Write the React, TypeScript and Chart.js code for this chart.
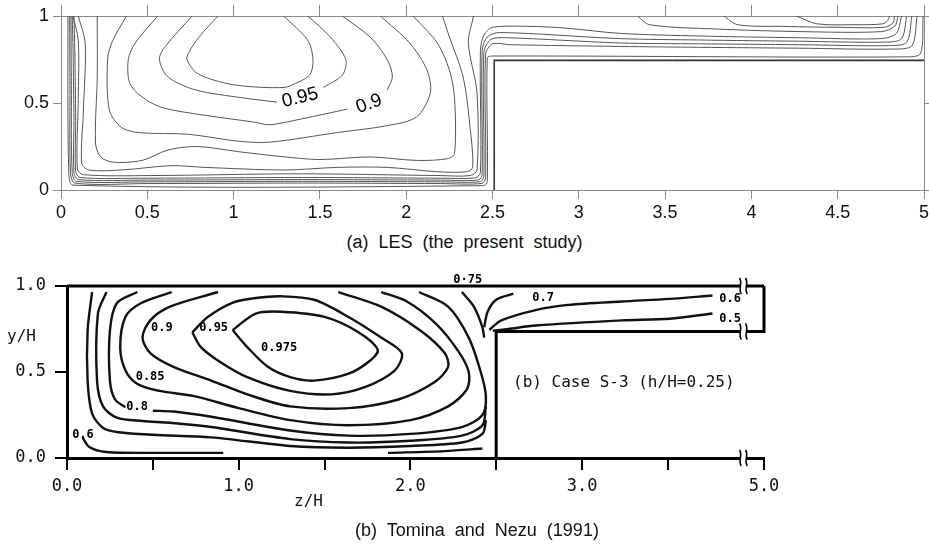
import { useEffect, useRef } from "react";
import { Chart, registerables } from "chart.js";
Chart.register(...registerables);

type Pt = [number, number] | null;

// ================= (a) LES panel data (z/H, y/H) =================
const lesStepZ = 2.51;
const lesStepTop = 0.745;
const lesStepOutline: Pt[] = [[lesStepZ, 0], [lesStepZ, lesStepTop], [5, lesStepTop]];

const lesC1: Pt[] = [[0.91, 1.0], [0.8, 0.88], [0.74, 0.79], [0.73, 0.75], [0.79, 0.67], [0.97, 0.61], [1.16, 0.59], [1.3, 0.59], [1.33, 0.6], [1.44, 0.66], [1.46, 0.75], [1.43, 0.86], [1.29, 1.0]];
const lesC095: Pt[] = [[0.76, 1.0], [0.6, 0.82], [0.57, 0.75], [0.62, 0.65], [0.78, 0.575], [1.05, 0.53], [1.25, 0.505], null, [1.52, 0.59], [1.63, 0.66], [1.65, 0.75], [1.56, 0.88], [1.43, 1.0]];
const lesC090: Pt[] = [[0.56, 1.0], [0.43, 0.845], [0.39, 0.75], [0.4, 0.61], [0.49, 0.52], [0.6, 0.47], [0.83, 0.43], [1.12, 0.39], [1.21, 0.375], [1.4, 0.41], [1.66, 0.465], null, [1.89, 0.575], [1.92, 0.65], [1.89, 0.75], [1.79, 0.88], [1.63, 1.0]];
const lesC085: Pt[] = [[0.38, 1.0], [0.3, 0.86], [0.27, 0.75], [0.28, 0.46], [0.35, 0.36], [0.45, 0.33], [0.74, 0.32], [1.03, 0.28], [1.21, 0.275], [1.6, 0.33], [1.89, 0.37], [2.06, 0.42], [2.14, 0.56], [2.12, 0.69], [2.02, 0.845], [1.85, 1.0]];
const lesC080: Pt[] = [[0.21, 1.0], [0.21, 0.65], [0.2, 0.27], [0.23, 0.19], [0.3, 0.16], [0.47, 0.17], [0.62, 0.23], [0.79, 0.25], [1.03, 0.22], [1.3, 0.19], [1.5, 0.175], [1.79, 0.19], [2.06, 0.17], [2.24, 0.18], [2.28, 0.21], [2.28, 0.53], [2.25, 0.69], [2.18, 0.845], [2.04, 1.0]];
const lesC075: Pt[] = [[0.1, 1.0], [0.14, 0.845], [0.13, 0.46], [0.12, 0.155], [0.16, 0.115], [0.35, 0.115], [0.64, 0.14], [0.83, 0.13], [1.3, 0.115], [1.6, 0.13], [1.89, 0.13], [2.18, 0.105], [2.35, 0.105], [2.385, 0.13], [2.37, 0.36], [2.33, 0.65], [2.25, 0.88], [2.21, 1.0]];
const lesC070: Pt[] = [[0.07, 1.0], [0.1, 0.86], [0.1, 0.52], [0.095, 0.12], [0.13, 0.088], [0.52, 0.083], [1.38, 0.093], [2.2, 0.083], [2.37, 0.083], [2.41, 0.115], [2.41, 0.56], [2.36, 0.845], [2.39, 1.0]];
const lesW1: Pt[] = [[0.075, 1.0], [0.08, 0.8], [0.085, 0.4], [0.085, 0.11], [0.11, 0.072], [0.5, 0.068], [1.4, 0.072], [2.2, 0.068], [2.4, 0.07], [2.43, 0.1], [2.43, 0.8], [2.45, 0.89], [2.5, 0.935], [2.73, 0.94], [2.93, 0.93], [3.24, 0.9], [3.7, 0.885], [4.28, 0.875], [4.75, 0.87], [4.84, 0.9], [4.87, 1.0]];
const lesW2: Pt[] = [[0.065, 1.0], [0.07, 0.8], [0.075, 0.4], [0.075, 0.1], [0.1, 0.06], [0.5, 0.057], [1.4, 0.06], [2.2, 0.057], [2.42, 0.058], [2.44, 0.09], [2.44, 0.8], [2.47, 0.88], [2.54, 0.905], [3.24, 0.87], [3.7, 0.862], [4.28, 0.855], [4.78, 0.85], [4.87, 0.87], [4.9, 1.0]];
const lesW3: Pt[] = [[0.058, 1.0], [0.06, 0.6], [0.065, 0.1], [0.09, 0.05], [0.5, 0.047], [1.4, 0.05], [2.2, 0.047], [2.43, 0.048], [2.45, 0.08], [2.45, 0.79], [2.49, 0.865], [2.58, 0.875], [3.24, 0.845], [3.7, 0.84], [4.28, 0.835], [4.8, 0.83], [4.9, 0.85], [4.93, 1.0]];
const lesW4: Pt[] = [[0.05, 1.0], [0.052, 0.6], [0.055, 0.1], [0.08, 0.04], [0.5, 0.037], [1.4, 0.04], [2.2, 0.037], [2.44, 0.038], [2.46, 0.07], [2.46, 0.78], [2.5, 0.84], [2.6, 0.835], [3.24, 0.825], [3.7, 0.82], [4.28, 0.815], [4.82, 0.81], [4.93, 0.83], [4.96, 1.0]];
const lesW5: Pt[] = [[0.04, 1.0], [0.045, 0.1], [0.07, 0.028], [2.45, 0.025], [2.47, 0.05], [2.47, 0.76], [2.5, 0.77], [4.9, 0.765], [4.98, 0.785], [4.995, 1.0]];
const lesT1: Pt[] = [[3.34, 1.0], [3.41, 0.95], [3.8, 0.925], [4.3, 0.91], [4.75, 0.91], [4.83, 0.94], [4.85, 1.0]];
const lesT2: Pt[] = [[3.84, 1.0], [3.92, 0.95], [4.2, 0.94], [4.5, 0.935], [4.77, 0.935], [4.82, 0.96], [4.83, 1.0]];
const lesT3: Pt[] = [[4.26, 1.0], [4.38, 0.955], [4.6, 0.95], [4.76, 0.955], [4.79, 0.975], [4.8, 1.0]];

const lesContours: Pt[][] = [lesC1, lesC095, lesC090, lesC085, lesC080, lesC075, lesC070, lesW1, lesW2, lesW3, lesW4, lesW5, lesT1, lesT2, lesT3];
const lesLabelText = ["0.95", "0.9"];
const lesLabelZ = [1.385, 1.785];
const lesLabelY = [0.53, 0.495];
const lesLabelRot = [-14, -20];

// ================= (b) Tominaga & Nezu panel data =================
const expXMax = 4.06;
const expStepZ = 2.5;
const expStepTop = 0.735;
const expBreakZ = 3.94;
const expXTickValues = [0, 0.5, 1, 1.5, 2, 2.5, 3, 3.5, 4.06];
const expXTickLabels = ["0.0", "", "1.0", "", "2.0", "", "3.0", "", "5.0"];
const expTopLine: Pt[] = [[0, 1], [expXMax, 1]];
const expStepOutline: Pt[] = [[expStepZ, 0], [expStepZ, expStepTop], [expXMax, expStepTop], [expXMax, 1]];

const expC0975: Pt[] = [[0.965, 0.744], [1.05, 0.645], [1.17, 0.53], [1.3, 0.47], [1.44, 0.45], [1.64, 0.49], [1.77, 0.57], [1.81, 0.63], [1.7, 0.73], [1.5, 0.82], [1.25, 0.85], [1.1, 0.84], [0.965, 0.744]];
const expC095: Pt[] = [[0.73, 0.73], [0.82, 0.82], [0.97, 0.905], [1.1, 0.93], [1.25, 0.94], [1.44, 0.92], [1.64, 0.82], [1.83, 0.7], [1.95, 0.61], [1.91, 0.51], [1.73, 0.41], [1.54, 0.37], [1.3, 0.39], [1.05, 0.47], [0.89, 0.56], [0.78, 0.645], [0.73, 0.73]];
const expC090: Pt[] = [[0.88, 0.965], [0.6, 0.88], [0.485, 0.8], [0.44, 0.7], [0.485, 0.61], [0.62, 0.53], [0.84, 0.45], [1.05, 0.37], [1.3, 0.3], [1.64, 0.29], [1.93, 0.34], [2.14, 0.44], [2.22, 0.53], [2.2, 0.61], [2.06, 0.74], [1.83, 0.88], [1.58, 0.965]];
const expC085: Pt[] = [[0.61, 0.965], [0.43, 0.9], [0.34, 0.82], [0.31, 0.645], [0.34, 0.51], [0.41, 0.43], [0.54, 0.39], [0.74, 0.36], [1.0, 0.29], [1.3, 0.22], [1.64, 0.19], [2.0, 0.22], [2.22, 0.3], [2.33, 0.4], [2.34, 0.5], [2.28, 0.62], [2.15, 0.78], [1.98, 0.91], [1.83, 0.965]];
const expC080: Pt[] = [[0.41, 0.965], [0.29, 0.9], [0.25, 0.74], [0.25, 0.45], [0.28, 0.34], [0.34, 0.295], null, [0.5, 0.275], [0.62, 0.27], [0.84, 0.24], [1.3, 0.16], [1.64, 0.13], [2.0, 0.14], [2.3, 0.18], [2.42, 0.25], [2.44, 0.36], [2.41, 0.5], [2.34, 0.7], [2.22, 0.88], [2.05, 0.965]];
const expC075: Pt[] = [[0.23, 0.965], [0.18, 0.84], [0.175, 0.45], [0.21, 0.3], [0.29, 0.235], [0.44, 0.215], [0.6, 0.205], [0.84, 0.18], [1.3, 0.11], [1.64, 0.09], [2.0, 0.1], [2.3, 0.13], [2.42, 0.19], [2.44, 0.3]];
const expC070: Pt[] = [[0.146, 0.965], [0.12, 0.74], [0.12, 0.45], [0.146, 0.26], [0.21, 0.175], [0.3, 0.15], [0.5, 0.135], [0.84, 0.12], [1.3, 0.07], [1.64, 0.06], [2.0, 0.07], [2.3, 0.09], [2.42, 0.14], [2.44, 0.22]];
const expC060: Pt[] = [[0.09, 0.12], [0.13, 0.064], [0.23, 0.035], [0.54, 0.03], [0.91, 0.03]];
const expC060b: Pt[] = [[1.87, 0.03], [2.2, 0.04], [2.42, 0.055]];
const expC075top: Pt[] = [[2.3, 0.965], [2.37, 0.88], [2.42, 0.76], [2.43, 0.7]];
const expFp07: Pt[] = [[2.43, 0.76], [2.45, 0.85], [2.5, 0.92], [2.6, 0.955]];
const expFp06: Pt[] = [[2.46, 0.745], [2.53, 0.8], [2.73, 0.86], [2.92, 0.89], [3.23, 0.91], [3.51, 0.925], [3.76, 0.945]];
const expFp05: Pt[] = [[2.48, 0.74], [2.57, 0.75], [2.73, 0.77], [3.23, 0.8], [3.51, 0.81], [3.76, 0.84]];

const expContours: Pt[][] = [expC0975, expC095, expC090, expC085, expC080, expC075, expC070, expC060, expC060b, expC075top, expFp07, expFp06, expFp05];
const expLabelText = ["0.975", "0.95", "0.9", "0.85", "0.8", "0.6", "0·75", "0.7", "0.6", "0.5"];
const expLabelZ = [1.13, 0.77, 0.49, 0.4, 0.345, 0.03, 2.25, 2.71, 3.8, 3.8];
const expLabelY = [0.64, 0.755, 0.755, 0.47, 0.3, 0.135, 1.035, 0.93, 0.925, 0.81];

// ================= helpers =================
function toXY(a: Pt[]) {
  let lx = 0;
  return a.map((p) => {
    if (p) {
      lx = p[0];
      return { x: p[0], y: p[1] };
    }
    return { x: lx, y: null as any };
  });
}

function lineDs(a: Pt[], color: string, width: number, tension: number, clip: any) {
  return {
    data: toXY(a),
    showLine: true,
    borderColor: color,
    borderWidth: width,
    pointRadius: 0,
    pointHoverRadius: 0,
    tension,
    fill: false,
    spanGaps: false,
    clip,
  };
}

function labelPlugin(id: string, texts: string[], zs: number[], ys: number[], rots: number[] | null, font: string, align: CanvasTextAlign) {
  return {
    id,
    afterDatasetsDraw(chart: any) {
      const { ctx, scales } = chart;
      ctx.save();
      ctx.font = font;
      ctx.fillStyle = "#000";
      ctx.textBaseline = "middle";
      ctx.textAlign = align;
      texts.forEach((t, i) => {
        ctx.save();
        ctx.translate(scales.x.getPixelForValue(zs[i]), scales.y.getPixelForValue(ys[i]));
        if (rots) ctx.rotate((rots[i] * Math.PI) / 180);
        ctx.fillText(t, 0, 0);
        ctx.restore();
      });
      ctx.restore();
    },
  };
}

const breakPlugin = {
  id: "breaks",
  afterDraw(chart: any) {
    const { ctx, scales } = chart;
    const px = scales.x.getPixelForValue(expBreakZ);
    [1.0, expStepTop, 0].forEach((v) => {
      const py = scales.y.getPixelForValue(v);
      ctx.save();
      ctx.fillStyle = "#fff";
      ctx.fillRect(px - 3, py - 3, 6, 6);
      ctx.strokeStyle = "#000";
      ctx.lineWidth = 1.6;
      [-3, 3].forEach((off) => {
        ctx.beginPath();
        ctx.moveTo(px + off - 1, py - 8);
        ctx.bezierCurveTo(px + off + 3, py - 3, px + off - 3, py + 3, px + off + 1, py + 8);
        ctx.stroke();
      });
      ctx.restore();
    });
  },
};

const sans = "'Liberation Sans', Arial, sans-serif";
const mono = "'DejaVu Sans Mono', 'Liberation Mono', monospace";
const axisGray = "#8a8a8a";
const plainNum = (v: any) => String(Math.round(Number(v) * 100) / 100);

export default function App() {
  const topRef = useRef<HTMLCanvasElement | null>(null);
  const botRef = useRef<HTMLCanvasElement | null>(null);

  useEffect(() => {
    if (!topRef.current || !botRef.current) return;
    const lesDatasets: any[] = lesContours.map((c) => lineDs(c, "#555", 1, 0.3, undefined));
    lesDatasets.push(lineDs(lesStepOutline, "#333", 1.6, 0, undefined));

    const top = new Chart(topRef.current, {
      type: "scatter",
      data: { datasets: lesDatasets },
      options: {
        animation: false,
        responsive: false,
        devicePixelRatio: 1,
        events: [],
        layout: { padding: 0 },
        plugins: { legend: { display: false }, tooltip: { enabled: false } },
        scales: {
          x: {
            type: "linear", position: "bottom", min: 0, max: 5,
            ticks: { stepSize: 0.5, color: "#111", font: { family: sans, size: 18 }, padding: 3, maxRotation: 0, autoSkip: false, callback: plainNum },
            grid: { drawOnChartArea: false, tickLength: 9, color: axisGray },
            border: { color: axisGray, width: 1 },
            afterFit: (s: any) => { s.height = 40; },
          },
          xTop: {
            type: "linear", position: "top", min: 0, max: 5,
            ticks: { stepSize: 0.5, display: false },
            grid: { drawOnChartArea: false, tickLength: 11, color: axisGray },
            border: { color: axisGray, width: 1 },
            afterFit: (s: any) => { s.height = 16; },
          },
          y: {
            type: "linear", position: "left", min: 0, max: 1,
            ticks: { stepSize: 0.5, color: "#111", font: { family: sans, size: 18 }, padding: 4, callback: plainNum },
            grid: { drawOnChartArea: false, tickLength: 8, color: axisGray },
            border: { color: axisGray, width: 1 },
            afterFit: (s: any) => { s.width = 61; },
          },
          yRight: {
            type: "linear", position: "right", min: 0, max: 1,
            ticks: { stepSize: 0.5, display: false },
            grid: { drawOnChartArea: false, tickLength: 5, color: axisGray },
            border: { color: axisGray, width: 1 },
            afterFit: (s: any) => { s.width = 16; },
          },
        },
      } as any,
      plugins: [labelPlugin("lesLabels", lesLabelText, lesLabelZ, lesLabelY, lesLabelRot, `19px ${sans}`, "center")],
    });

    const expDatasets: any[] = expContours.map((c) => lineDs(c, "#111", 2.4, 0.3, false));
    expDatasets.push(lineDs(expTopLine, "#000", 3, 0, false));
    expDatasets.push(lineDs(expStepOutline, "#000", 3, 0, false));

    const bot = new Chart(botRef.current, {
      type: "scatter",
      data: { datasets: expDatasets },
      options: {
        animation: false,
        responsive: false,
        devicePixelRatio: 1,
        events: [],
        layout: { padding: { top: 36, right: 165, left: 0, bottom: 0 } },
        plugins: { legend: { display: false }, tooltip: { enabled: false } },
        scales: {
          x: {
            type: "linear", position: "bottom", min: 0, max: expXMax,
            afterBuildTicks: (s: any) => { s.ticks = expXTickValues.map((v) => ({ value: v })); },
            ticks: {
              color: "#111", font: { family: mono, size: 17 }, padding: 6, maxRotation: 0, autoSkip: false,
              callback: (_v: any, i: number) => expXTickLabels[i],
            },
            grid: { drawOnChartArea: false, tickLength: 12, color: "#000", lineWidth: 2 },
            border: { color: "#000", width: 3 },
            afterFit: (s: any) => { s.height = 88; },
          },
          y: {
            type: "linear", position: "left", min: 0, max: 1,
            ticks: { stepSize: 0.5, color: "#111", font: { family: mono, size: 17 }, padding: 9, callback: (v: any) => Number(v).toFixed(1) },
            grid: { drawOnChartArea: false, tickLength: 12, color: "#000", lineWidth: 2 },
            border: { color: "#000", width: 3 },
            afterFit: (s: any) => { s.width = 67; },
          },
        },
      } as any,
      plugins: [
        labelPlugin("expLabels", expLabelText, expLabelZ, expLabelY, null, `bold 12px ${mono}`, "left"),
        breakPlugin,
      ],
    });

    return () => {
      top.destroy();
      bot.destroy();
    };
  }, []);

  return (
    <div style={{ position: "absolute", left: 0, top: 0, width: 929, height: 546, background: "#fff", overflow: "hidden" }}>
      <canvas ref={topRef} width={940} height={230} style={{ position: "absolute", left: 0, top: 0 }} />
      <div style={{ position: "absolute", left: 0, width: 929, top: 231, textAlign: "center", fontFamily: sans, fontSize: 18, lineHeight: "22px", wordSpacing: 5, color: "#111" }}>
        (a) LES (the present study)
      </div>
      <canvas ref={botRef} width={929} height={296} style={{ position: "absolute", left: 0, top: 250 }} />
      <div style={{ position: "absolute", left: 7, top: 326, fontFamily: mono, fontSize: 16, lineHeight: "20px", color: "#111" }}>y/H</div>
      <div style={{ position: "absolute", left: 294, top: 491, fontFamily: mono, fontSize: 16, lineHeight: "20px", color: "#111" }}>z/H</div>
      <div style={{ position: "absolute", left: 513, top: 372, fontFamily: mono, fontSize: 16, lineHeight: "20px", color: "#111", whiteSpace: "pre" }}>(b) Case S-3 (h/H=0.25)</div>
      <div style={{ position: "absolute", left: 0, width: 954, top: 519, textAlign: "center", fontFamily: sans, fontSize: 18, lineHeight: "22px", wordSpacing: 5, color: "#111" }}>
        (b) Tomina and Nezu (1991)
      </div>
    </div>
  );
}
